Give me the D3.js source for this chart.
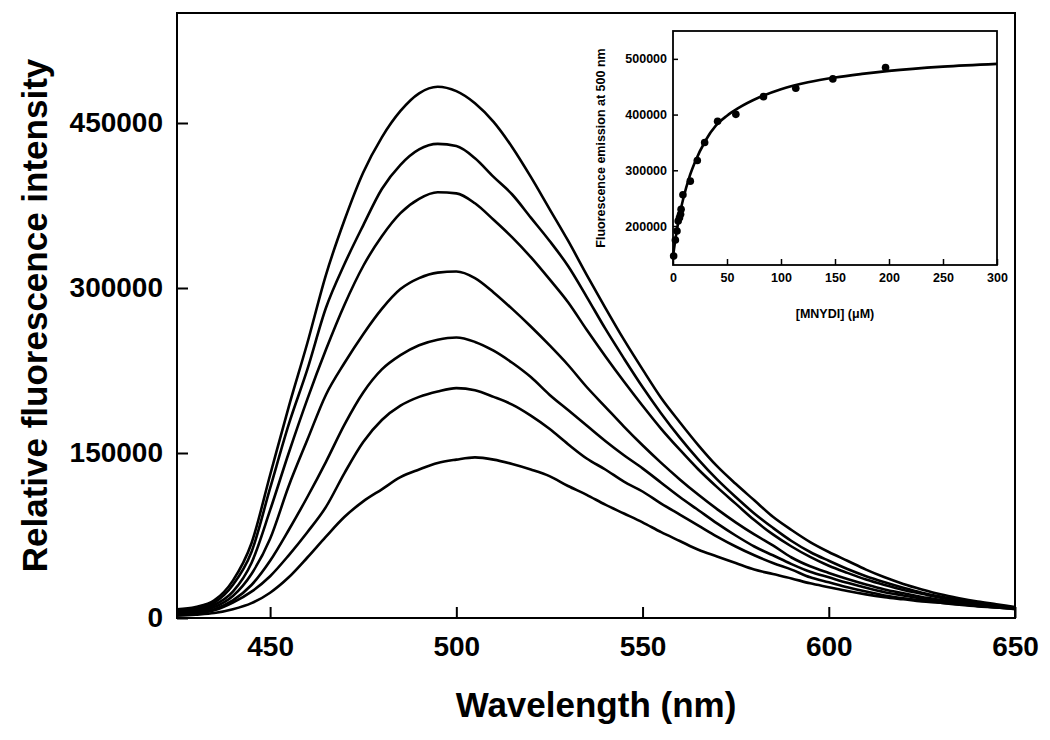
<!DOCTYPE html>
<html>
<head>
<meta charset="utf-8">
<script src="https://cdn.jsdelivr.net/npm/d3@7"></script>
<style>
  html, body { margin: 0; padding: 0; background: #fff; }
  svg { display: block; }
  text { font-family: "Liberation Sans", Arial, Helvetica, sans-serif; font-weight: bold; fill: #000; }
</style>
</head>
<body>
<svg id="chart" width="1050" height="740"></svg>
<script>
// ---------- DATA ----------
const wavelengths = [425,430,435,440,445,450,455,460,465,470,475,480,485,490,495,500,505,510,515,520,525,530,535,540,545,550,555,560,565,570,575,580,585,590,595,600,605,610,615,620,625,630,635,640,645,650];

const spectrum1 = [8000,10000,16000,34000,68000,130000,192000,250000,312000,362000,405000,437000,461000,477000,483000,479000,468000,451000,428000,401000,372000,343000,312000,282000,253000,226000,200000,178000,157000,138000,122000,107000,92000,80000,69000,60000,52000,44000,37000,31000,26000,21500,18000,15000,12500,10000];
const spectrum2 = [7000,9000,14000,30000,60000,118000,176000,226000,282000,322000,357000,390000,412000,426000,431000,429000,418000,401000,385000,364000,343000,320000,292000,263000,236000,210000,186000,164000,144000,126000,110000,95000,82000,70000,60000,52000,44500,38000,32500,27500,23000,19500,16500,13500,11500,9500];
const spectrum3 = [6000,8000,12000,24000,50000,98000,150000,199000,244000,285000,320000,347000,368000,381000,387000,386000,377000,362000,346000,328000,308000,287000,262000,238000,215000,193000,172000,153000,135000,119000,104000,89000,76000,65000,55500,47500,41000,35000,30000,25500,22000,18500,15500,13000,11000,9000];
const spectrum4 = [5000,6500,10000,20000,40000,72000,120000,162000,203000,232000,258000,281000,299000,309000,314000,315000,309000,296000,281000,265000,248000,230000,210000,192000,174000,157000,141000,126000,112000,99000,87000,76000,66000,55000,47000,41000,35500,30500,26000,22500,19000,16500,14000,12000,10000,8500];
const spectrum5 = [4000,5000,8000,16000,30000,52000,80000,110000,142000,176000,205000,226000,239000,248000,253000,255000,251000,243000,232000,219000,203000,189000,175000,161000,148000,136000,123000,110000,98000,86000,75000,65000,57000,49000,42000,37000,32000,27500,23500,20500,17500,15000,13000,11500,10000,8500];
const spectrum6 = [3000,4000,7000,14000,24000,38000,57000,78000,101000,132000,160000,180000,193000,201000,206000,209000,207000,201000,194000,184000,172000,158000,145000,135000,124000,115000,104000,94000,84000,74000,65000,57000,50000,44000,37000,32500,28000,24000,20500,18000,16000,14000,12500,11000,9500,8500];
const spectrum7 = [2000,3000,4500,8000,13500,23000,37000,55000,74000,92000,106000,117000,128000,135000,141000,144000,146000,144000,140000,135000,129000,120000,112000,103000,95000,87000,78000,70000,62000,56000,50000,44000,40000,36000,31500,28000,24500,21500,19000,17000,15000,13800,12000,10500,9500,8000];

const mainXTicks = [450, 500, 550, 600, 650];
const mainYTicks = [0, 150000, 300000, 450000];

// Inset: titration data (emission at 500 nm vs [MNYDI])
const insetConc     = [0.6, 2.2, 3.7, 4.8, 6, 7, 7.5, 9.2, 16, 22.5, 29.3, 41.3, 58.2, 83.8, 113.7, 148, 196.8];
const insetEmission = [146000, 175000, 191000, 209000, 215000, 221000, 230000, 256000, 280500, 317600, 350000, 387800, 400400, 432200, 447200, 464000, 484400];
const fitConc     = [0, 1, 2, 3, 5, 7, 10, 15, 20, 30, 40, 50, 60, 80, 100, 125, 150, 175, 200, 250, 300];
const fitEmission = [145000, 159600, 173000, 185700, 208000, 228000, 253000, 287000, 313000, 353000, 381000, 398000, 411000, 431000, 445500, 458000, 466600, 473000, 478400, 486000, 491000];
const insetXTicks = [0, 50, 100, 150, 200, 250, 300];
const insetYTicks = [200000, 300000, 400000, 500000];

// ---------- DRAW ----------
const svg = d3.select("#chart");
svg.append("rect").attr("width", 1050).attr("height", 740).attr("fill", "#fff");

const M = { left: 177, right: 1015, top: 13, bottom: 618 };
const x = d3.scaleLinear().domain([425, 650]).range([M.left, M.right]);
const y = d3.scaleLinear().domain([0, 550000]).range([M.bottom, M.top]);

const spectra = [spectrum1, spectrum2, spectrum3, spectrum4, spectrum5, spectrum6, spectrum7];
const line = d3.line().x(d => x(d[0])).y(d => y(d[1])).curve(d3.curveMonotoneX);

const gMain = svg.append("g");
gMain.selectAll("path.spec")
  .data(spectra)
  .join("path")
  .attr("class", "spec")
  .attr("d", s => line(wavelengths.map((w, i) => [w, s[i]])))
  .attr("fill", "none")
  .attr("stroke", "#000")
  .attr("stroke-width", 2.6)
  .attr("stroke-linejoin", "round");

// frame
gMain.append("rect")
  .attr("x", M.left).attr("y", M.top)
  .attr("width", M.right - M.left).attr("height", M.bottom - M.top)
  .attr("fill", "none").attr("stroke", "#000").attr("stroke-width", 2);

const xAxis = gMain.append("g")
  .attr("transform", `translate(0,${M.bottom})`)
  .call(d3.axisBottom(x).tickValues(mainXTicks).tickSize(-11).tickPadding(18).tickFormat(d3.format("d")));
xAxis.select(".domain").remove();
xAxis.selectAll("line").attr("stroke", "#000").attr("stroke-width", 2);
xAxis.selectAll("text").style("font-size", "28px").attr("font-family", null);

const yAxis = gMain.append("g")
  .attr("transform", `translate(${M.left},0)`)
  .call(d3.axisLeft(y).tickValues(mainYTicks).tickSize(-11).tickPadding(14).tickFormat(d3.format("d")));
yAxis.select(".domain").remove();
yAxis.selectAll("line").attr("stroke", "#000").attr("stroke-width", 2);
yAxis.selectAll("text").style("font-size", "28px").attr("font-family", null);

svg.append("text")
  .attr("x", (M.left + M.right) / 2).attr("y", 717)
  .attr("text-anchor", "middle")
  .style("font-size", "35px")
  .text("Wavelength (nm)");

svg.append("text")
  .attr("transform", `translate(47,${(M.top + M.bottom) / 2}) rotate(-90)`)
  .attr("text-anchor", "middle")
  .style("font-size", "35px")
  .text("Relative fluorescence intensity");

// ---------- INSET ----------
const I = { left: 673, right: 997, top: 31, bottom: 265 };
const xi = d3.scaleLinear().domain([0, 300]).range([I.left, I.right]);
const yi = d3.scaleLinear().domain([130000, 550000]).range([I.bottom, I.top]);

const gIn = svg.append("g");
gIn.append("rect")
  .attr("x", I.left).attr("y", I.top)
  .attr("width", I.right - I.left).attr("height", I.bottom - I.top)
  .attr("fill", "#fff");

const fitLine = d3.line().x((d, i) => xi(fitConc[i])).y(d => yi(d)).curve(d3.curveMonotoneX);
gIn.append("path")
  .attr("d", fitLine(fitEmission))
  .attr("fill", "none").attr("stroke", "#000").attr("stroke-width", 2.6);

gIn.selectAll("circle")
  .data(insetConc)
  .join("circle")
  .attr("cx", d => xi(d))
  .attr("cy", (d, i) => yi(insetEmission[i]))
  .attr("r", 3.8)
  .attr("fill", "#000");

gIn.append("rect")
  .attr("x", I.left).attr("y", I.top)
  .attr("width", I.right - I.left).attr("height", I.bottom - I.top)
  .attr("fill", "none").attr("stroke", "#000").attr("stroke-width", 1.8);

const xiAxis = gIn.append("g")
  .attr("transform", `translate(0,${I.bottom})`)
  .call(d3.axisBottom(xi).tickValues(insetXTicks).tickSize(-6).tickPadding(8).tickFormat(d3.format("d")));
xiAxis.select(".domain").remove();
xiAxis.selectAll("line").attr("stroke", "#000").attr("stroke-width", 1.5);
xiAxis.selectAll("text").style("font-size", "12.5px").attr("font-family", null);

const yiAxis = gIn.append("g")
  .attr("transform", `translate(${I.left},0)`)
  .call(d3.axisLeft(yi).tickValues(insetYTicks).tickSize(-5).tickPadding(6).tickFormat(d3.format("d")));
yiAxis.select(".domain").remove();
yiAxis.selectAll("line").attr("stroke", "#000").attr("stroke-width", 1.5);
yiAxis.selectAll("text").style("font-size", "12.5px").attr("font-family", null);

svg.append("text")
  .attr("x", (I.left + I.right) / 2).attr("y", 318)
  .attr("text-anchor", "middle")
  .style("font-size", "12.5px")
  .text("[MNYDI] (\u03BCM)");

svg.append("text")
  .attr("transform", `translate(605,${(I.top + I.bottom) / 2}) rotate(-90)`)
  .attr("text-anchor", "middle")
  .style("font-size", "12.5px")
  .text("Fluorescence emission at 500 nm");
</script>
</body>
</html>
